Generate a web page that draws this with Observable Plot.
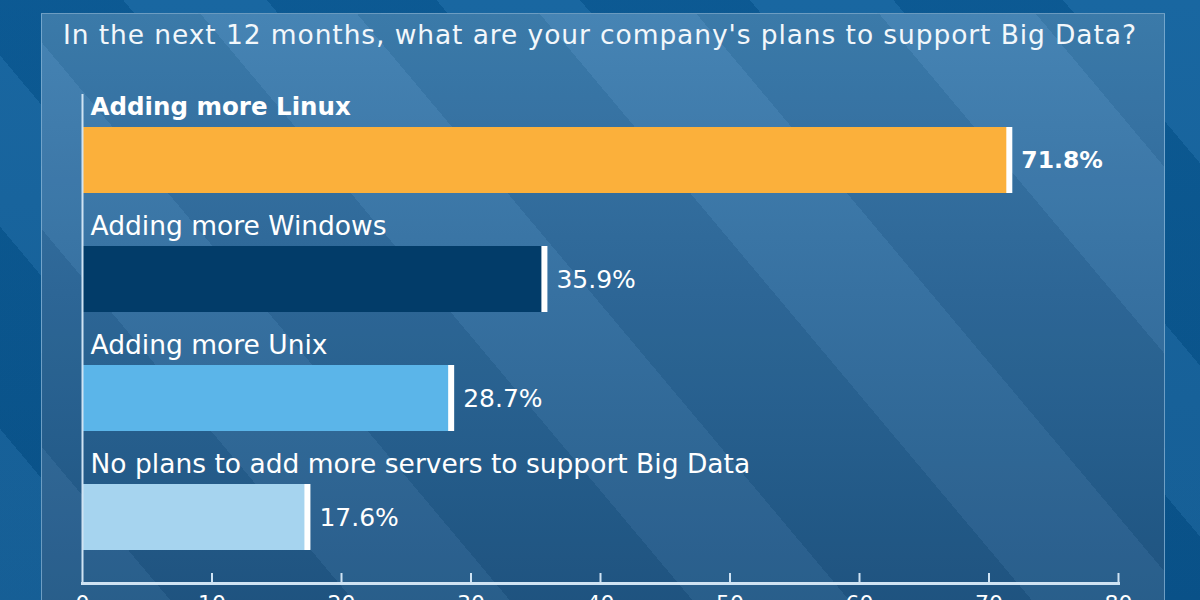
<!DOCTYPE html>
<html>
<head>
<meta charset="utf-8">
<script src="https://cdn.jsdelivr.net/npm/d3@7"></script>
<script src="https://cdn.jsdelivr.net/npm/@observablehq/plot@0.6"></script>
<style>
  html, body { margin: 0; padding: 0; width: 1200px; height: 600px; overflow: hidden; }
  body {
    position: relative;
    font-family: "DejaVu Sans", sans-serif;
    background:
      repeating-linear-gradient(50deg, rgba(255,255,255,0.05) 0 110px, rgba(0,0,0,0.06) 110px 240px),
      linear-gradient(180deg, #0d5f9c, #0a5690);
  }
  #panel {
    position: absolute; left: 41px; top: 13px; width: 1122px; height: 620px;
    border: 1px solid rgba(140,185,220,0.7);
    background:
      repeating-linear-gradient(50deg, rgba(255,255,255,0.04) 0 120px, rgba(0,0,0,0.045) 120px 260px),
      linear-gradient(180deg, #3e7fb1 0%, #2f6b9d 45%, #1e5583 100%);
  }
  #title {
    position: absolute; left: 0; top: 19px; width: 1200px; text-align: center;
    color: #f2f7fb; font-size: 26.5px; letter-spacing: 0.9px;
  }
  #chart { position: absolute; left: 0; top: 88px; }
</style>
</head>
<body>
<div id="panel"></div>
<div id="title">In the next 12 months, what are your company's plans to support Big Data?</div>
<div id="chart"></div>
<script>
const categories = [
  "Adding more Linux",
  "Adding more Windows",
  "Adding more Unix",
  "No plans to add more servers to support Big Data"
];
const values = [71.8, 35.9, 28.7, 17.6];
const colors = ["#fbb03b", "#023c69", "#5bb5e9", "#a6d4ef"];
const boldFlags = [true, false, false, false];
const tickValues = [0, 10, 20, 30, 40, 50, 60, 70, 80];

const data = categories.map((c, i) => ({cat: c, value: values[i], color: colors[i], bold: boldFlags[i]}));
const boldData = data.filter(d => d.bold);
const normalData = data.filter(d => !d.bold);

const height = 540;
const marginTop = 6;
const marginBottom = 45;

const labelOpts = {y: "cat", x: 0, text: "cat", dy: -53, dx: 8, textAnchor: "start", fill: "#ffffff", fontSize: 26.5};
const valueOpts = {y: "cat", x: "value", text: d => d.value.toFixed(1) + "%", dx: 9, textAnchor: "start", fill: "#ffffff", fontSize: 25};

const plot = Plot.plot({
  width: 1200,
  height,
  marginLeft: 82,
  marginRight: 82,
  marginTop,
  marginBottom,
  style: {background: "transparent", color: "#ffffff", fontFamily: "DejaVu Sans, sans-serif"},
  x: {domain: [0, 80], ticks: tickValues},
  y: {domain: categories, paddingInner: 0.445, paddingOuter: 0.277, axis: null},
  color: {type: "identity"},
  marks: [
    Plot.barX(data, {y: "cat", x: "value", fill: "color"}),
    Plot.tickX(data, {y: "cat", x: "value", stroke: "#ffffff", strokeWidth: 6, dx: -3}),
    Plot.text(boldData, {...labelOpts, fontWeight: "bold", fontSize: 24.5}),
    Plot.text(normalData, {...labelOpts, fontWeight: "normal"}),
    Plot.text(boldData, {...valueOpts, fontWeight: "bold", fontSize: 23.5}),
    Plot.text(normalData, {...valueOpts, fontWeight: "normal"}),
    Plot.ruleX(tickValues.slice(1), {stroke: "#cfe3f3", strokeWidth: 2, insetTop: height - marginTop - marginBottom - 10}),
    Plot.ruleX([0], {stroke: "#cfe3f3", strokeWidth: 2}),
    Plot.frame({anchor: "bottom", stroke: "#cfe3f3", strokeWidth: 3}),
    Plot.axisX({ticks: tickValues, tickSize: 0, tickPadding: 12, fontSize: 22, fill: "#ffffff", tickFormat: d => String(d)})
  ]
});
document.getElementById("chart").appendChild(plot);
</script>
</body>
</html>
